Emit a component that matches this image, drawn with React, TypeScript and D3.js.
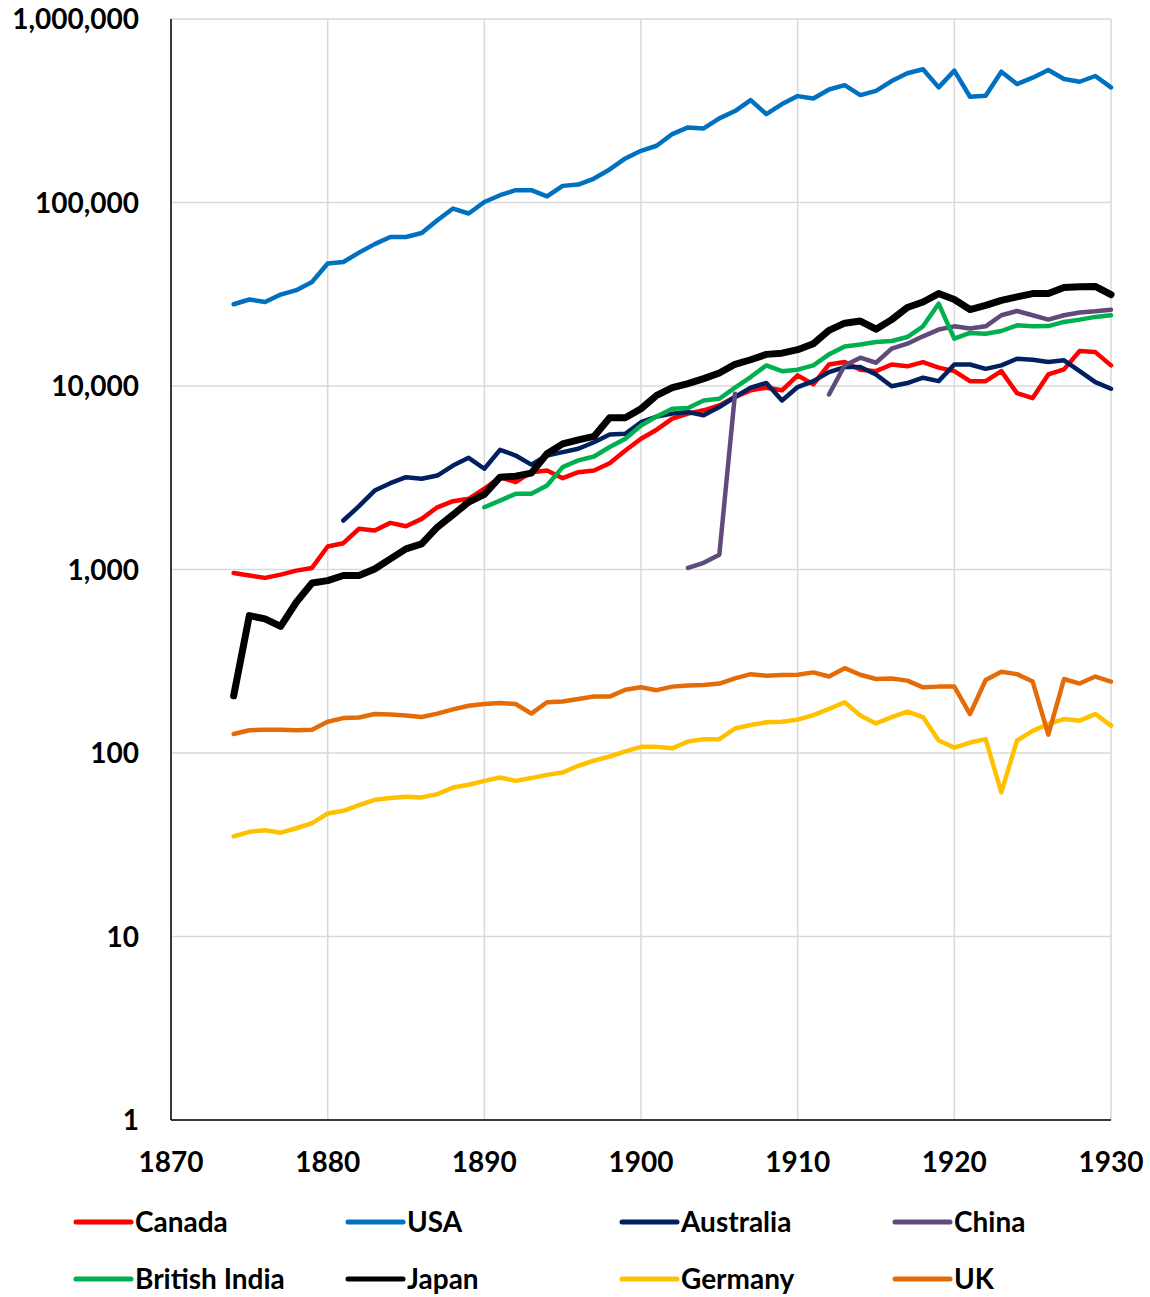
import React from "react";
import * as d3 from "d3";

const years: number[] = d3.range(1874, 1931);

const canada = [958, 927, 900, 938, 986, 1020,
  1334, 1391, 1667, 1630, 1795, 1720, 1888, 2183, 2356, 2427,
  2754, 3184, 2992, 3392, 3465, 3146, 3392, 3465, 3797, 4454,
  5160, 5780, 6640, 7070, 7370, 7840, 8710, 9470, 9790, 9470,
  11430, 10200, 13100, 13500, 12270, 12050, 13100, 12800, 13500, 12600,
  12050, 10630, 10630, 12050, 9140, 8590, 11560, 12320, 15500, 15300,
  12950];

const usa = [27900, 29600, 28700, 31500, 33300, 36900,
  46500, 47400, 53300, 59300, 64900, 64900, 68200, 80000, 92700, 87100,
  100700, 109600, 116700, 116700, 108100, 123200, 125300, 135100, 151400, 173800,
  191300, 203800, 236000, 256600, 253300, 287300, 315000, 361600, 303200, 343800,
  380000, 369000, 413000, 436000, 385000, 406000, 459000, 506000, 532000, 424000,
  523000, 377000, 382000, 516000, 442000, 479000, 527000, 471000, 455000, 489000,
  424000];

const australia = [null, null, null, null, null, null,
  null, 1849, 2213, 2693, 2953, 3184, 3120, 3250, 3686, 4060,
  3540, 4490, 4180, 3730, 4180, 4360, 4550, 4940, 5440, 5490,
  6350, 6820, 7070, 7210, 6920, 7680, 8710, 9800, 10380, 8340,
  9870, 10630, 11900, 12680, 12680, 11560, 9960, 10380, 11100, 10630,
  13100, 13100, 12400, 12950, 14080, 13900, 13500, 13800, 12050, 10500,
  9660];

const china = [null, null, null, null, null, null,
  null, null, null, null, null, null, null, null, null, null,
  null, null, null, null, null, null, null, null, null, null,
  null, null, null, 1020, 1087, 1205, 9080, null, null, null,
  null, null, 8990, 12950, 14260, 13390, 15970, 17000, 18650, 20300,
  21140, 20550, 21140, 24300, 25640, 24300, 23000, 24300, 25130, 25520,
  26050];

const britishIndia = [null, null, null, null, null, null,
  null, null, null, null, null, null, null, null, null, null,
  2183, 2375, 2585, 2585, 2868, 3613, 3930, 4130, 4650, 5160,
  6090, 6820, 7520, 7580, 8340, 8520, 9800, 11190, 12950, 12050,
  12270, 12950, 14870, 16430, 16850, 17360, 17580, 18490, 21140, 28100,
  18100, 19450, 19280, 19940, 21420, 21140, 21200, 22350, 23000, 23800,
  24300];

const japan = [205, 561, 538, 490, 663, 845,
  870, 927, 927, 1007, 1142, 1295, 1380, 1700, 1987, 2330,
  2565, 3184, 3226, 3350, 4270, 4840, 5090, 5310, 6720, 6720,
  7520, 8890, 9800, 10300, 10970, 11770, 13130, 13900, 14870, 15100,
  15770, 17000, 20100, 22000, 22600, 20400, 23000, 26800, 28700, 31900,
  29600, 26100, 27500, 29300, 30600, 31900, 31900, 34400, 34700, 34900,
  31500];

const germany = [35.1, 37.2, 37.9, 36.8, 38.9, 41.5,
  46.8, 48.4, 52, 55.6, 56.8, 57.7, 57.3, 59.7, 64.9, 67.1,
  70.5, 73.6, 70.5, 73, 76, 78.3, 85.2, 90.8, 95.7, 102,
  108, 108, 106, 115.6, 119, 119, 136, 142, 147, 148,
  152, 161, 174, 189, 160, 145, 157, 168, 157, 117,
  107, 114, 119, 61, 117, 132, 144, 153, 150, 163,
  141];

const uk = [127, 133, 134, 134, 133, 134,
  148, 155, 156, 163, 162, 160, 157, 164, 173, 181,
  185, 187, 185, 164, 189, 191, 197, 203, 203, 221,
  228, 220, 230, 233, 235, 239, 255, 269, 264, 266,
  267, 275, 261, 290, 267, 253, 255, 248, 228, 230,
  230, 163, 250, 277, 269, 245, 126, 253, 239, 261,
  245];

const seriesNames = ["Canada", "USA", "Australia", "China", "British India", "Japan", "Germany", "UK"];
const seriesValues = [canada, usa, australia, china, britishIndia, japan, germany, uk];
const seriesColors = ["#FF0000", "#0070C0", "#002060", "#604A7B", "#00B050", "#000000", "#FFC000", "#E36C09"];
const seriesWidths = [4.5, 4.5, 4.5, 4.5, 4.5, 7, 4.5, 4.5];

const yTicks = [1, 10, 100, 1000, 10000, 100000, 1000000];
const xTicks = [1870, 1880, 1890, 1900, 1910, 1920, 1930];

const FONT = "Lato, 'Open Sans', sans-serif";

export default function App() {
  const W = 1150, H = 1297;
  const left = 171, right = 1111, top = 19, bottom = 1120;
  const x = d3.scaleLinear().domain([1870, 1930]).range([left, right]);
  const y = d3.scaleLog().domain([1, 1e6]).range([bottom, top]);
  const fmt = d3.format(",");

  const line = d3.line<[number, number | null]>()
    .defined(d => d[1] != null)
    .x(d => x(d[0]))
    .y(d => y(d[1] as number));

  const legendCols = [76, 348, 622, 895];
  const legendRows = [1222, 1279];

  return (
    <svg width={W} height={H} style={{ position: "absolute", left: 0, top: 0, display: "block", background: "#fff" }}>
      <rect x={0} y={0} width={W} height={H} fill="#fff" />
      {yTicks.map(t => (
        <line key={"gy" + t} x1={left} x2={right} y1={y(t)} y2={y(t)} stroke="#D9D9D9" strokeWidth={1.5} />
      ))}
      {xTicks.map(t => (
        <line key={"gx" + t} x1={x(t)} x2={x(t)} y1={top} y2={bottom} stroke="#D9D9D9" strokeWidth={1.5} />
      ))}
      <line x1={left} x2={left} y1={top} y2={bottom} stroke="#000" strokeWidth={1.5} />
      <line x1={left} x2={right} y1={bottom} y2={bottom} stroke="#000" strokeWidth={1.5} />
      {yTicks.map(t => (
        <text key={"ly" + t} x={139} y={y(t)} dy="0.36em" textAnchor="end"
          fontFamily={FONT} fontWeight={700} fontSize={28} fill="#000">{fmt(t)}</text>
      ))}
      {xTicks.map(t => (
        <text key={"lx" + t} x={x(t)} y={1172} textAnchor="middle"
          fontFamily={FONT} fontWeight={700} fontSize={28} fill="#000">{t}</text>
      ))}
      {seriesValues.map((vals, i) => {
        const pts = years.map((yr, j) => [yr, vals[j]] as [number, number | null]);
        return (
          <path key={seriesNames[i]} d={line(pts) || ""} fill="none" stroke={seriesColors[i]}
            strokeWidth={seriesWidths[i]} strokeLinejoin="round" strokeLinecap="round" />
        );
      })}
      {seriesNames.map((name, i) => {
        const lx = legendCols[i % 4];
        const ly = legendRows[Math.floor(i / 4)];
        return (
          <g key={"lg" + name}>
            <line x1={lx} x2={lx + 55} y1={ly} y2={ly} stroke={seriesColors[i]} strokeWidth={5} strokeLinecap="round" />
            <text x={lx + 59} y={ly} dy="0.36em" fontFamily={FONT} fontWeight={700} fontSize={28} fill="#000">{name}</text>
          </g>
        );
      })}
    </svg>
  );
}
